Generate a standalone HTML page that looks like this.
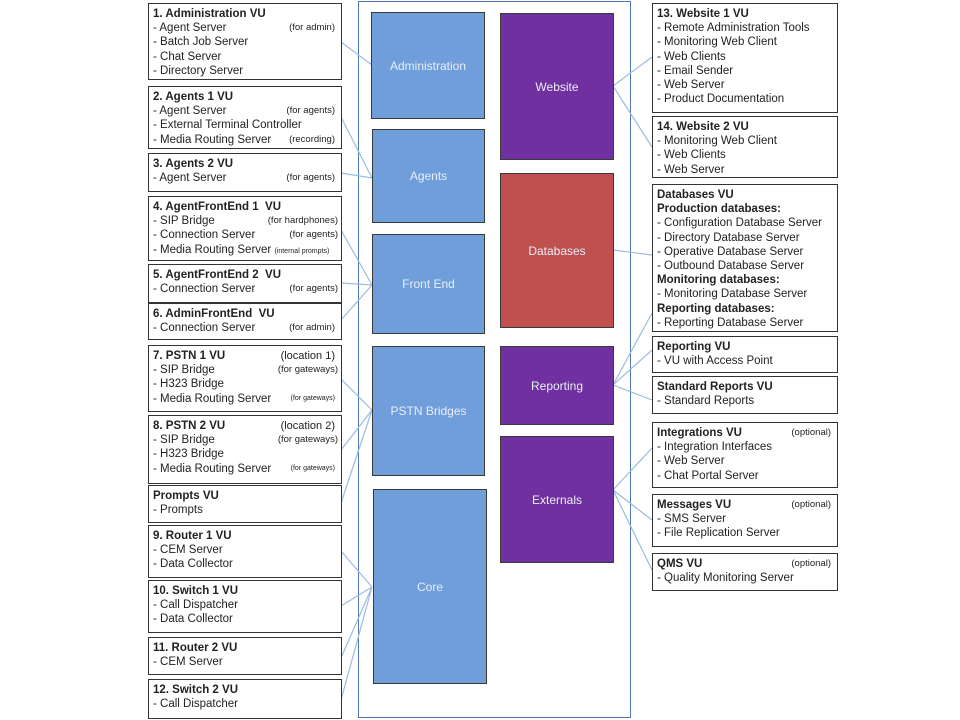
<!DOCTYPE html>
<html><head><meta charset="utf-8"><style>
body{margin:0;width:960px;height:720px;background:#fff;position:relative;overflow:hidden;font-family:"Liberation Sans",Arial,sans-serif;}
.b{position:absolute;border:1.5px solid #333;background:#fff;box-sizing:border-box;padding:3px 0 0 4px;font-size:11.5px;line-height:14.2px;color:#222;}
.b div{position:relative;white-space:nowrap}
.b b{font-weight:bold}
.n{position:absolute;right:6px;font-size:9.5px}
.t{font-size:7px}
.s{position:absolute;box-sizing:border-box;border:1.5px solid #3a3a3a;color:#e8eef8;font-size:12px;display:flex;align-items:center;justify-content:center;}
.bl{background:#6f9edb}
.pu{background:#7030a0}
.rd{background:#c0504d}
</style></head><body>
<div style="position:absolute;left:358px;top:1px;width:273px;height:717px;border:1.5px solid #4f77b0;box-sizing:border-box"></div>
<svg width="960" height="720" style="position:absolute;left:0;top:0" stroke="#9cbce0" stroke-width="1.2" fill="none">
<path d="M341 42L372 65M341 117L372 178M341 173L372 178M341 230L372 285M341 283L372 285M341 320L372 285M341 379L372 410M341 450L372 410M341 503L372 410M341 551L372 587M341 606L372 587M341 658L372 587M341 700L372 587"/>
<path d="M613 86L652 57M613 86L652 147M613 250L652 255M613 385L652 313M613 385L652 350M613 385L652 400M613 490L652 448M613 490L652 520M613 490L652 570"/>
</svg>
<div class="s bl" style="left:371px;top:12px;width:114px;height:107px">Administration</div>
<div class="s bl" style="left:372px;top:129px;width:113px;height:94px">Agents</div>
<div class="s bl" style="left:372px;top:234px;width:113px;height:100px">Front End</div>
<div class="s bl" style="left:372px;top:346px;width:113px;height:130px">PSTN Bridges</div>
<div class="s bl" style="left:373px;top:489px;width:114px;height:195px">Core</div>
<div class="s pu" style="left:500px;top:13px;width:114px;height:147px">Website</div>
<div class="s rd" style="left:500px;top:173px;width:114px;height:155px">Databases</div>
<div class="s pu" style="left:500px;top:346px;width:114px;height:79px">Reporting</div>
<div class="s pu" style="left:500px;top:436px;width:114px;height:127px">Externals</div>

<div class="b" style="left:148px;top:3px;width:194px;height:77px"><div><b>1. Administration VU</b></div><div>- Agent Server<span class="n">(for admin)</span></div><div>- Batch Job Server</div><div>- Chat Server</div><div>- Directory Server</div></div>
<div class="b" style="left:148px;top:86px;width:194px;height:63px"><div><b>2. Agents 1 VU</b></div><div>- Agent Server<span class="n">(for agents)</span></div><div>- External Terminal Controller</div><div>- Media Routing Server<span class="n">(recording)</span></div></div>
<div class="b" style="left:148px;top:153px;width:194px;height:39px"><div><b>3. Agents 2 VU</b></div><div>- Agent Server<span class="n">(for agents)</span></div></div>
<div class="b" style="left:148px;top:196px;width:194px;height:65px"><div><b>4. AgentFrontEnd 1&nbsp; VU</b></div><div>- SIP Bridge<span class="n" style="right:3px">(for hardphones)</span></div><div>- Connection Server<span class="n" style="right:3px">(for agents)</span></div><div>- Media Routing Server <span class="t">(internal prompts)</span></div></div>
<div class="b" style="left:148px;top:264px;width:194px;height:39px"><div><b>5. AgentFrontEnd 2&nbsp; VU</b></div><div>- Connection Server<span class="n" style="right:3px">(for agents)</span></div></div>
<div class="b" style="left:148px;top:303px;width:194px;height:37px"><div><b>6. AdminFrontEnd&nbsp; VU</b></div><div>- Connection Server<span class="n">(for admin)</span></div></div>
<div class="b" style="left:148px;top:345px;width:194px;height:67px"><div><b>7. PSTN 1 VU</b><span class="n" style="font-size:11px">(location 1)</span></div><div>- SIP Bridge<span class="n" style="right:3px">(for gateways)</span></div><div>- H323 Bridge</div><div>- Media Routing Server<span class="n t">(for gateways)</span></div></div>
<div class="b" style="left:148px;top:415px;width:194px;height:69px"><div><b>8. PSTN 2 VU</b><span class="n" style="font-size:11px">(location 2)</span></div><div>- SIP Bridge<span class="n" style="right:3px">(for gateways)</span></div><div>- H323 Bridge</div><div>- Media Routing Server<span class="n t">(for gateways)</span></div></div>
<div class="b" style="left:148px;top:485px;width:194px;height:38px"><div><b>Prompts VU</b></div><div>- Prompts</div></div>
<div class="b" style="left:148px;top:525px;width:194px;height:53px"><div><b>9. Router 1 VU</b></div><div>- CEM Server</div><div>- Data Collector</div></div>
<div class="b" style="left:148px;top:580px;width:194px;height:53px"><div><b>10. Switch 1 VU</b></div><div>- Call Dispatcher</div><div>- Data Collector</div></div>
<div class="b" style="left:148px;top:637px;width:194px;height:38px"><div><b>11. Router 2 VU</b></div><div>- CEM Server</div></div>
<div class="b" style="left:148px;top:679px;width:194px;height:40px"><div><b>12. Switch 2 VU</b></div><div>- Call Dispatcher</div></div>

<div class="b" style="left:652px;top:3px;width:186px;height:110px"><div><b>13. Website 1 VU</b></div><div>- Remote Administration Tools</div><div>- Monitoring Web Client</div><div>- Web Clients</div><div>- Email Sender</div><div>- Web Server</div><div>- Product Documentation</div></div>
<div class="b" style="left:652px;top:116px;width:186px;height:62px"><div><b>14. Website 2 VU</b></div><div>- Monitoring Web Client</div><div>- Web Clients</div><div>- Web Server</div></div>
<div class="b" style="left:652px;top:184px;width:186px;height:148px"><div><b>Databases VU</b></div><div><b>Production databases:</b></div><div>- Configuration Database Server</div><div>- Directory Database Server</div><div>- Operative Database Server</div><div>- Outbound Database Server</div><div><b>Monitoring databases:</b></div><div>- Monitoring Database Server</div><div><b>Reporting databases:</b></div><div>- Reporting Database Server</div></div>
<div class="b" style="left:652px;top:336px;width:186px;height:37px"><div><b>Reporting VU</b></div><div>- VU with Access Point</div></div>
<div class="b" style="left:652px;top:376px;width:186px;height:38px"><div><b>Standard Reports VU</b></div><div>- Standard Reports</div></div>
<div class="b" style="left:652px;top:422px;width:186px;height:66px"><div><b>Integrations VU</b><span class="n">(optional)</span></div><div>- Integration Interfaces</div><div>- Web Server</div><div>- Chat Portal Server</div></div>
<div class="b" style="left:652px;top:494px;width:186px;height:53px"><div><b>Messages VU</b><span class="n">(optional)</span></div><div>- SMS Server</div><div>- File Replication Server</div></div>
<div class="b" style="left:652px;top:553px;width:186px;height:38px"><div><b>QMS VU</b><span class="n">(optional)</span></div><div>- Quality Monitoring Server</div></div>
</body></html>
